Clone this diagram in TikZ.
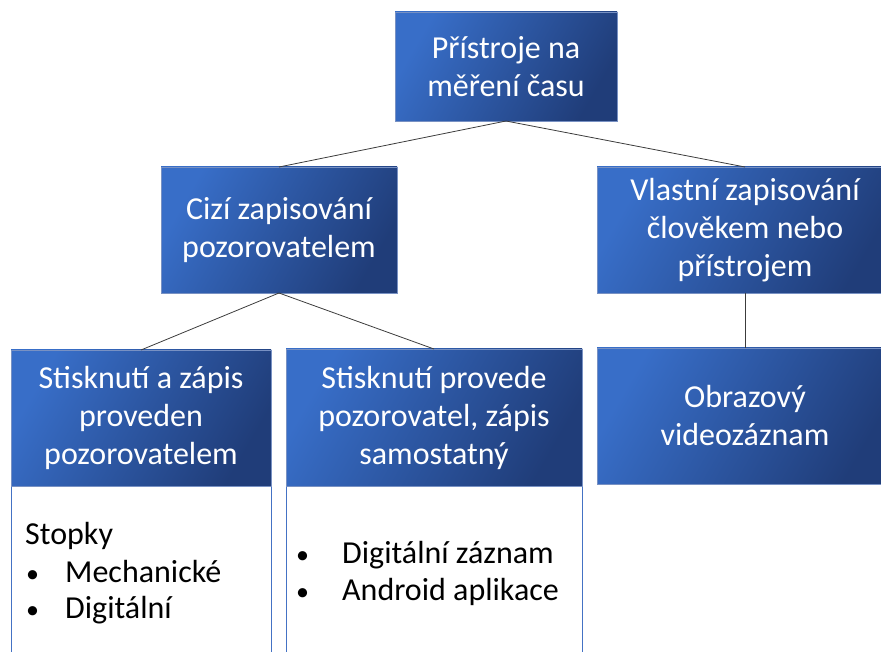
\documentclass[tikz,border=0pt]{standalone}
\usepackage{fontspec}
\setmainfont{Carlito}
\definecolor{boxlight}{RGB}{56,110,200}
\definecolor{boxdark}{RGB}{32,61,121}
\definecolor{boxedge}{RGB}{120,145,195}
\definecolor{listedge}{RGB}{68,114,196}
\definecolor{linkgray}{RGB}{60,60,60}
\tikzset{
  bluebox/.style={rectangle, inner sep=0pt, outer sep=0pt,
    top color=boxlight, bottom color=boxdark, shading angle=60,
    draw=boxedge, line width=0.6pt,
    text=white, align=center, font=\fontsize{32}{38}\selectfont},
  listbox/.style={rectangle, inner sep=0pt, outer sep=0pt,
    fill=white, draw=listedge, line width=0.8pt},
  listtext/.style={anchor=base west, inner sep=0pt, text=black,
    font=\fontsize{32}{38}\selectfont},
  dotmark/.style={anchor=base west, inner sep=0pt, text=black,
    font=\fontsize{26}{38}\selectfont},
  link/.style={draw=linkgray, line width=0.8pt}
}
\begin{document}
\begin{tikzpicture}[x=1pt, y=-1pt]
\useasboundingbox (0,0) rectangle (881,652);
\clip (0,0) rectangle (881,652);

% white list panels under the lowest row
\node[listbox, minimum width=260pt, minimum height=214pt] (list1) at (141,593) {};
\node[listbox, minimum width=296pt, minimum height=214pt] (list2) at (434,593) {};

% hierarchy boxes
\node[bluebox, minimum width=222pt, minimum height=109pt] (root) at (506,66.5)
  {Přístroje na\\měření času};
\node[bluebox, minimum width=236pt, minimum height=126pt] (cizi) at (279,230)
  {Cizí zapisování\\pozorovatelem};
\node[bluebox, minimum width=296pt, minimum height=126pt] (vlastni) at (745,230)
  {Vlastní zapisování\\člověkem nebo\\přístrojem};
\node[bluebox, minimum width=260pt, minimum height=136pt] (stisk1) at (141,418)
  {Stisknutí a zápis\\proveden\\pozorovatelem};
\node[bluebox, minimum width=296pt, minimum height=137pt] (stisk2) at (434,417.5)
  {Stisknutí provede\\pozorovatel, zápis\\samostatný};
\node[bluebox, minimum width=296pt, minimum height=136pt] (obraz) at (745,416)
  {Obrazový\\videozáznam};

% connectors
\draw[link] (root.south) -- (cizi.north);
\draw[link] (root.south) -- (vlastni.north);
\draw[link] (cizi.south) -- (stisk1.north);
\draw[link] (cizi.south) -- (stisk2.north);
\draw[link] (vlastni.south) -- (obraz.north);

% list contents
\node[listtext] (stopky) at (25,544) {Stopky};
\node[dotmark] (b1) at (26,582) {\textbullet};
\node[listtext] (mech) at (65,582) {Mechanické};
\node[dotmark] (b2) at (26,618) {\textbullet};
\node[listtext] (digi) at (65,618) {Digitální};
\node[dotmark] (b3) at (296,563) {\textbullet};
\node[listtext] (dzaz) at (342,563) {Digitální záznam};
\node[dotmark] (b4) at (296,600) {\textbullet};
\node[listtext] (andr) at (342,600) {Android aplikace};
\end{tikzpicture}
\end{document}
